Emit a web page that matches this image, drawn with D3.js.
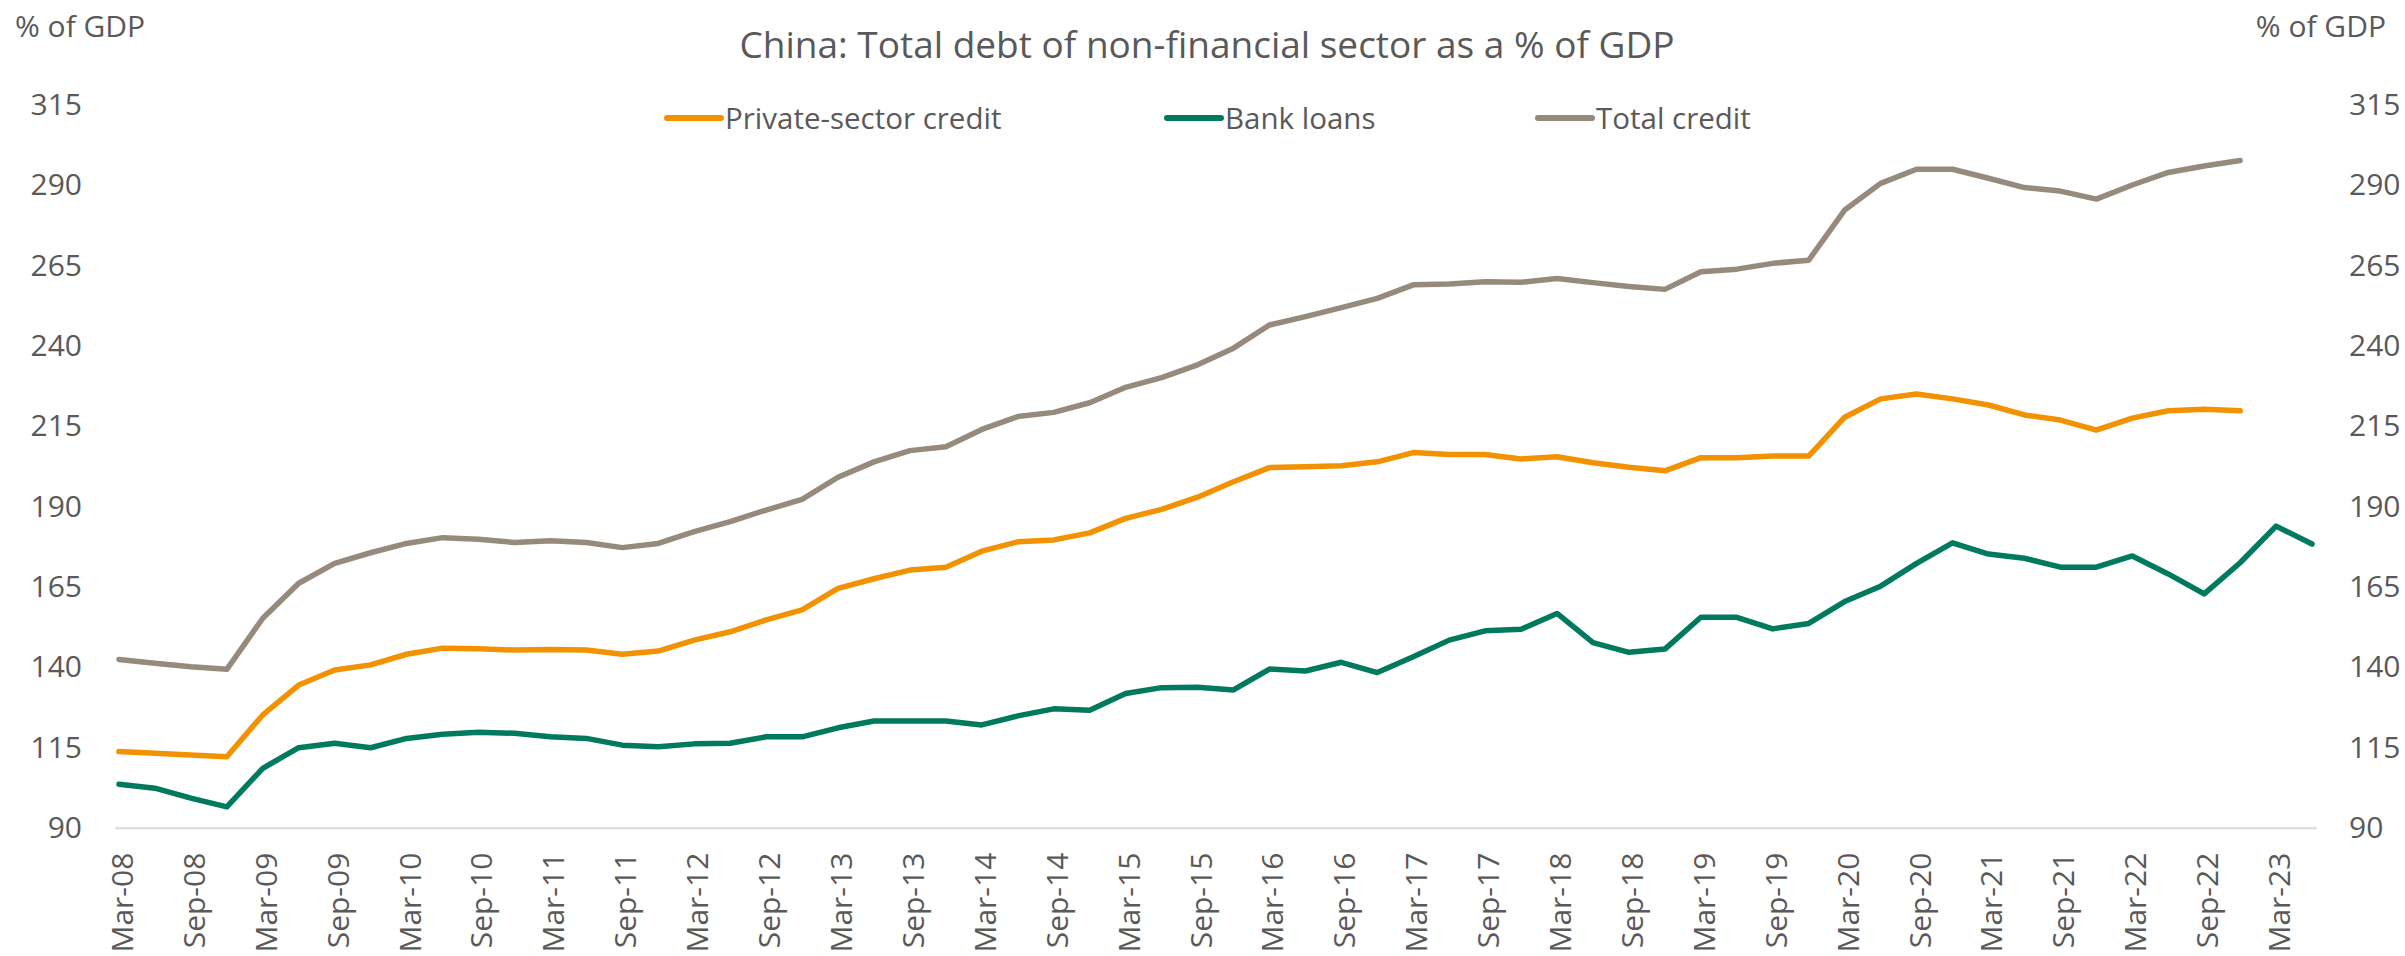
<!DOCTYPE html>
<html><head><meta charset="utf-8">
<script src="https://cdn.jsdelivr.net/npm/d3@7/dist/d3.min.js"></script>
<style>
html,body{margin:0;padding:0;background:#fff;}
svg{display:block;font-family:"Open Sans",sans-serif;}
</style></head><body>
<svg id="chart" width="2405" height="956"></svg>
<script>
const quarters = [
 "Mar-08","Jun-08","Sep-08","Dec-08","Mar-09","Jun-09","Sep-09","Dec-09",
 "Mar-10","Jun-10","Sep-10","Dec-10","Mar-11","Jun-11","Sep-11","Dec-11",
 "Mar-12","Jun-12","Sep-12","Dec-12","Mar-13","Jun-13","Sep-13","Dec-13",
 "Mar-14","Jun-14","Sep-14","Dec-14","Mar-15","Jun-15","Sep-15","Dec-15",
 "Mar-16","Jun-16","Sep-16","Dec-16","Mar-17","Jun-17","Sep-17","Dec-17",
 "Mar-18","Jun-18","Sep-18","Dec-18","Mar-19","Jun-19","Sep-19","Dec-19",
 "Mar-20","Jun-20","Sep-20","Dec-20","Mar-21","Jun-21","Sep-21","Dec-21",
 "Mar-22","Jun-22","Sep-22","Dec-22","Mar-23","Jun-23"];

const tickLabels = [
 "Mar-08","Sep-08","Mar-09","Sep-09","Mar-10","Sep-10","Mar-11","Sep-11",
 "Mar-12","Sep-12","Mar-13","Sep-13","Mar-14","Sep-14","Mar-15","Sep-15",
 "Mar-16","Sep-16","Mar-17","Sep-17","Mar-18","Sep-18","Mar-19","Sep-19",
 "Mar-20","Sep-20","Mar-21","Sep-21","Mar-22","Sep-22","Mar-23"];

const yTicks = [90,115,140,165,190,215,240,265,290,315];

const privateCredit = [
 113.7,113.2,112.6,112.1,125.1,134.4,139.1,140.7,
 144.0,145.9,145.7,145.3,145.5,145.3,144.0,145.0,
 148.4,151.0,154.7,157.8,164.5,167.5,170.2,171.1,
 176.1,179.0,179.6,181.8,186.3,189.1,192.9,197.7,
 202.1,202.4,202.7,203.9,206.8,206.2,206.2,204.8,
 205.5,203.6,202.2,201.1,205.2,205.2,205.7,205.7,
 217.8,223.5,225.0,223.5,221.6,218.5,216.9,213.8,
 217.5,219.8,220.3,219.8];

const bankLoans = [
 103.5,102.3,99.2,96.5,108.5,114.9,116.3,114.9,
 117.8,119.1,119.7,119.4,118.3,117.8,115.7,115.2,
 116.1,116.3,118.3,118.3,121.1,123.2,123.2,123.2,
 122.0,124.8,127.0,126.6,131.8,133.6,133.7,132.9,
 139.4,138.8,141.5,138.3,143.2,148.4,151.3,151.8,
 156.7,147.6,144.6,145.6,155.5,155.5,151.9,153.6,
 160.4,165.2,172.3,178.7,175.2,173.9,171.1,171.1,
 174.6,169.0,162.8,172.5,183.9,178.3];

const totalCredit = [
 142.4,141.2,140.1,139.3,155.2,166.1,172.3,175.6,
 178.5,180.3,179.8,178.8,179.3,178.8,177.2,178.5,
 182.2,185.3,188.9,192.2,199.1,203.9,207.4,208.6,
 214.0,218.0,219.3,222.3,227.1,230.1,234.1,239.3,
 246.5,249.1,251.9,254.8,259.0,259.3,260.0,259.8,
 261.0,259.7,258.5,257.6,263.1,263.9,265.7,266.7,
 282.3,290.6,295.0,295.0,292.2,289.3,288.2,285.7,
 290.1,294.0,296.0,297.7];

const seriesNames = ["Private-sector credit","Bank loans","Total credit"];
const seriesColors = ["#F39200","#007A5E","#968A7D"];
const seriesData = [privateCredit, bankLoans, totalCredit];

const textColor = "#595959";
const svg = d3.select("#chart");

const x = d3.scalePoint().domain(quarters).range([115, 2316]).padding(0.11);
const y = d3.scaleLinear().domain([90, 315]).range([827.7, 105]);

// Title
svg.append("text")
  .attr("x", 1207).attr("y", 58)
  .attr("text-anchor", "middle")
  .attr("font-size", 37)
  .attr("fill", textColor)
  .text("China: Total debt of non-financial sector as a % of GDP");

// Axis unit labels
svg.append("text").attr("x", 15).attr("y", 37).attr("font-size", 30)
  .attr("fill", textColor).text("% of GDP");
svg.append("text").attr("x", 2386).attr("y", 37).attr("font-size", 30)
  .attr("text-anchor", "end").attr("fill", textColor).text("% of GDP");

// X axis
const xAxis = svg.append("g")
  .attr("transform", `translate(0,${y(90)})`)
  .call(d3.axisBottom(x).tickValues(tickLabels).tickSize(0).tickSizeOuter(0));
xAxis.select(".domain").attr("stroke", "#D9D9D9").attr("stroke-width", 2);
xAxis.selectAll("text")
  .attr("transform", "rotate(-90)")
  .attr("x", -25).attr("y", 3).attr("dy", "0.35em")
  .style("text-anchor", "end")
  .attr("font-size", 30)
  .attr("font-family", '"Open Sans",sans-serif')
  .attr("fill", textColor);

// Left Y axis
const yLeft = svg.append("g").attr("transform", "translate(85,0)")
  .call(d3.axisLeft(y).tickValues(yTicks).tickSize(0).tickPadding(3));
yLeft.select(".domain").remove();
yLeft.selectAll("text").attr("font-size", 30)
  .attr("font-family", '"Open Sans",sans-serif').attr("fill", textColor);

// Right Y axis
const yRight = svg.append("g").attr("transform", "translate(2346,0)")
  .call(d3.axisRight(y).tickValues(yTicks).tickSize(0).tickPadding(3));
yRight.select(".domain").remove();
yRight.selectAll("text").attr("font-size", 30)
  .attr("font-family", '"Open Sans",sans-serif').attr("fill", textColor);

// Lines
const line = d3.line().x((d, i) => x(quarters[i])).y(d => y(d));
seriesData.forEach((data, k) => {
  svg.append("path")
    .datum(data)
    .attr("fill", "none")
    .attr("stroke", seriesColors[k])
    .attr("stroke-width", 5.5)
    .attr("stroke-linejoin", "round")
    .attr("stroke-linecap", "round")
    .attr("d", line);
});

// Legend
const legendX = [667, 1167, 1538];
const legend = svg.append("g");
seriesNames.forEach((name, k) => {
  legend.append("line")
    .attr("x1", legendX[k]).attr("x2", legendX[k] + 54)
    .attr("y1", 118).attr("y2", 118)
    .attr("stroke", seriesColors[k]).attr("stroke-width", 6)
    .attr("stroke-linecap", "round");
  legend.append("text")
    .attr("x", legendX[k] + 58).attr("y", 129)
    .attr("font-size", 29.5).attr("fill", textColor)
    .text(name);
});
</script>
</body></html>
